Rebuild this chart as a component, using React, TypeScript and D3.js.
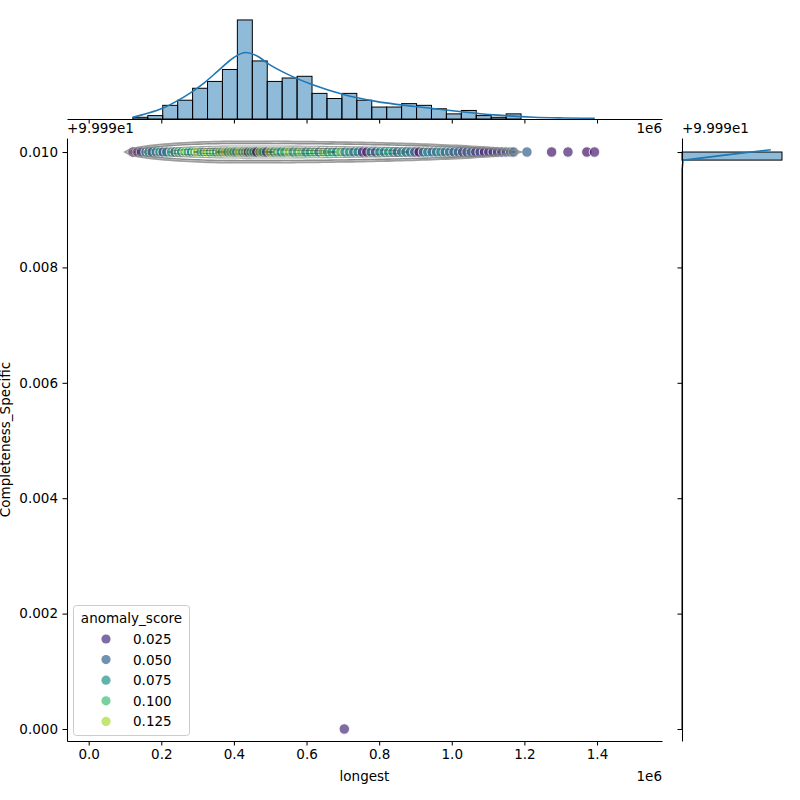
import { useEffect, useRef } from "react"
import * as d3 from "d3"

// completeness values sit on a tiny offset, ticks are printed relative to it
const Y_OFFSET = 99.99

// marginal histogram of `longest`
const longestBinEdges = [
  121700, 162800, 203900, 245100, 286200, 327300, 368400, 409500, 450700, 491800, 532900, 574000, 615100, 656300,
  697400, 738500, 779600, 820700, 861800, 903000, 944100, 985200, 1026300, 1067400, 1108600, 1149700, 1190800,
]
const longestBinCounts = [1, 2, 8, 11, 18, 22, 29, 58, 34, 22, 24, 25, 15, 12, 15, 11, 7, 7, 9, 8, 6, 3, 5, 2, 1, 3]

// kde of `longest`, scaled to counts
const longestKdeX = [
  121700, 160000, 203400, 240000, 279300, 320000, 355600, 399000, 432000, 464000, 497000, 540000, 617000, 704000,
  791000, 899000, 1008000, 1117000, 1226000, 1310000, 1394000,
]
const longestKdeCount = [
  1, 3.2, 6.3, 10.2, 15.2, 21.5, 28, 35.9, 38.9, 36.9, 32, 27, 20, 14.2, 10.3, 7.3, 4.7, 2.4, 1.0, 0.6, 0.4,
]

// marginal histogram of Completeness_Specific
const completenessBinEdges = [99.99986, 100.0]
const completenessBinCounts = [358]

// kde of Completeness_Specific, scaled to counts
const completenessKdeY = [99.99, 99.99969, 99.999852, 99.99986, 99.99995, 100.00004]
const completenessKdeCount = [0, 0, 4, 8, 160, 318]

// [longest, Completeness_Specific, anomaly_score]
const points: [number, number, number][] = [
  [122000, 100, 0.01], [135000, 100, 0.012], [145000, 100, 0.03], [158000, 100, 0.06], [166000, 100, 0.075],
  [175000, 100, 0.04], [186000, 100, 0.07], [196000, 100, 0.085], [205000, 100, 0.035], [215000, 100, 0.062],
  [228000, 100, 0.095], [238000, 100, 0.045], [247000, 100, 0.105], [256000, 100, 0.08], [265000, 100, 0.12],
  [274000, 100, 0.09], [283000, 100, 0.07], [292000, 100, 0.11], [300000, 100, 0.128], [309000, 100, 0.1],
  [318000, 100, 0.085], [326000, 100, 0.135], [335000, 100, 0.092], [343000, 100, 0.115], [352000, 100, 0.078],
  [360000, 100, 0.125], [368000, 100, 0.098], [376000, 100, 0.14], [384000, 100, 0.088], [392000, 100, 0.118],
  [400000, 100, 0.102], [408000, 100, 0.082], [416000, 100, 0.1425], [424000, 100, 0.094], [432000, 100, 0.113],
  [440000, 100, 0.02], [447000, 100, 0.108], [455000, 100, 0.087], [463000, 100, 0.0074], [472000, 100, 0.123],
  [480000, 100, 0.097], [490000, 100, 0.03], [500000, 100, 0.13], [510000, 100, 0.09], [520000, 100, 0.112],
  [530000, 100, 0.08], [540000, 100, 0.1], [552000, 100, 0.125], [563000, 100, 0.086], [575000, 100, 0.104],
  [587000, 100, 0.118], [598000, 100, 0.072], [610000, 100, 0.095], [622000, 100, 0.109], [634000, 100, 0.066],
  [646000, 100, 0.12], [658000, 100, 0.083], [670000, 100, 0.099], [682000, 100, 0.074], [694000, 100, 0.114],
  [706000, 100, 0.064], [718000, 100, 0.09], [730000, 100, 0.052], [742000, 100, 0.078], [754000, 100, 0.022],
  [766000, 100, 0.015], [778000, 100, 0.068], [790000, 100, 0.035], [802000, 100, 0.084], [814000, 100, 0.06],
  [826000, 100, 0.092], [838000, 100, 0.072], [850000, 100, 0.045], [862000, 100, 0.08], [874000, 100, 0.058],
  [886000, 100, 0.065], [898000, 100, 0.04], [910000, 100, 0.012], [922000, 100, 0.055], [934000, 100, 0.07],
  [946000, 100, 0.048], [958000, 100, 0.062], [970000, 100, 0.075], [982000, 100, 0.05], [994000, 100, 0.068],
  [1006000, 100, 0.042], [1018000, 100, 0.058], [1030000, 100, 0.03], [1042000, 100, 0.045], [1054000, 100, 0.052],
  [1066000, 100, 0.025], [1078000, 100, 0.038], [1090000, 100, 0.018], [1102000, 100, 0.03], [1114000, 100, 0.022],
  [1126000, 100, 0.035], [1138000, 100, 0.028], [1150000, 100, 0.04], [1162000, 100, 0.045], [1170000, 100, 0.05],
  [1207000, 100, 0.048], [1275000, 100, 0.016], [1320000, 100, 0.02], [1372000, 100, 0.014], [1393000, 100, 0.018],
  [704000, 99.99, 0.025],
]

// joint kde contour levels: extent along longest, widest point, half height
const contourFrom = [100000, 118000, 150000, 220000, 290000, 350000]
const contourTo = [1190000, 1165000, 1060000, 880000, 680000, 510000]
const contourPeak = [420000, 420000, 430000, 430000, 430000, 430000]
const contourHalf = [0.000185, 0.00015, 0.000105, 0.00007, 0.00004, 0.000018]
const contourColors = ["#8c8c8c", "#7a7a7a", "#686868", "#515151", "#3c3c3c", "#262626"]
const contourWidths = [1.8, 1.6, 1.1, 1, 1, 1]

const xTicks = [0, 200000, 400000, 600000, 800000, 1000000, 1200000, 1400000]
const xTickLabels = ["0.0", "0.2", "0.4", "0.6", "0.8", "1.0", "1.2", "1.4"]
const yTickOffsets = [0, 0.002, 0.004, 0.006, 0.008, 0.01]
const yTickLabels = ["0.000", "0.002", "0.004", "0.006", "0.008", "0.010"]

const legendValues = [0.025, 0.05, 0.075, 0.1, 0.125]

const FONT = "DejaVu Sans, sans-serif"
const FS = 13.5

export default function App() {
  const ref = useRef<SVGSVGElement>(null)

  useEffect(() => {
    if (!ref.current) return
    const svg = d3.select(ref.current)
    svg.selectAll("*").remove()

    const L = 67
    const R = 662
    const T = 138
    const B = 741
    const topB = 119
    const topT = 15
    const rL = 682
    const rR = 787

    const x = d3.scaleLinear().domain([-59700, 1579000]).range([L, R])
    const y = d3
      .scaleLinear()
      .domain([Y_OFFSET - 0.000208, Y_OFFSET + 0.010243])
      .range([B, T])
    const topY = d3
      .scaleLinear()
      .domain([0, (d3.max(longestBinCounts) ?? 1) * 1.05])
      .range([topB, topT])
    const rightX = d3
      .scaleLinear()
      .domain([0, (d3.max(completenessBinCounts) ?? 1) * 1.05])
      .range([rL, rR])

    const scores = points.map((p) => p[2])
    const [sMin, sMax] = d3.extent(scores) as [number, number]
    const color = d3.scaleSequential(d3.interpolateViridis).domain([sMin, sMax])

    const yTicks = yTickOffsets.map((t) => Y_OFFSET + t)

    const styleAxis = (g: d3.Selection<SVGGElement, unknown, null, undefined>) => {
      g.attr("font-family", FONT).attr("font-size", FS)
      g.select(".domain").attr("stroke", "#000").attr("stroke-width", 1.05)
      g.selectAll(".tick line").attr("stroke", "#000").attr("stroke-width", 1.05)
      g.selectAll(".tick text").attr("fill", "#000")
    }

    // ---- top marginal: histogram + kde
    const top = svg.append("g")
    top
      .selectAll("rect")
      .data(longestBinCounts)
      .join("rect")
      .attr("x", (_, i) => x(longestBinEdges[i]))
      .attr("width", (_, i) => x(longestBinEdges[i + 1]) - x(longestBinEdges[i]))
      .attr("y", (d) => topY(d))
      .attr("height", (d) => topB - topY(d))
      .attr("fill", "#1f77b4")
      .attr("fill-opacity", 0.5)
      .attr("stroke", "#000")
      .attr("stroke-width", 1)

    const topLine = d3
      .line<number>()
      .x((_, i) => x(longestKdeX[i]))
      .y((d) => topY(d))
      .curve(d3.curveMonotoneX)
    top
      .append("path")
      .attr("d", topLine(longestKdeCount))
      .attr("fill", "none")
      .attr("stroke", "#1f77b4")
      .attr("stroke-width", 1.6)

    const topAxis = top
      .append("g")
      .attr("transform", `translate(0,${topB})`)
      .call(d3.axisBottom(x).tickValues(xTicks).tickFormat(() => "").tickSize(4.5).tickSizeOuter(0))
    styleAxis(topAxis)

    top
      .append("text")
      .attr("x", R)
      .attr("y", 133)
      .attr("text-anchor", "end")
      .attr("font-family", FONT)
      .attr("font-size", FS)
      .text("1e6")

    // ---- right marginal: histogram + kde
    const right = svg.append("g")
    right
      .selectAll("rect")
      .data(completenessBinCounts)
      .join("rect")
      .attr("x", rL)
      .attr("width", (d) => rightX(d) - rL)
      .attr("y", (_, i) => y(completenessBinEdges[i + 1]))
      .attr("height", (_, i) => y(completenessBinEdges[i]) - y(completenessBinEdges[i + 1]))
      .attr("fill", "#1f77b4")
      .attr("fill-opacity", 0.5)
      .attr("stroke", "#000")
      .attr("stroke-width", 1)

    const rightLine = d3
      .line<number>()
      .x((d) => rightX(d))
      .y((_, i) => y(completenessKdeY[i]))
    right
      .append("path")
      .attr("d", rightLine(completenessKdeCount))
      .attr("fill", "none")
      .attr("stroke", "#1f77b4")
      .attr("stroke-width", 1.6)

    const rightAxis = right
      .append("g")
      .attr("transform", `translate(${rL},0)`)
      .call(d3.axisLeft(y).tickValues(yTicks).tickFormat(() => "").tickSize(4.5).tickSizeOuter(0))
    styleAxis(rightAxis)

    right
      .append("text")
      .attr("x", rL)
      .attr("y", 133)
      .attr("font-family", FONT)
      .attr("font-size", FS)
      .text("+9.999e1")

    // ---- joint: scatter coloured by anomaly_score, kde contours on top
    const joint = svg.append("g")
    joint
      .selectAll("circle")
      .data(points)
      .join("circle")
      .attr("cx", (d) => x(d[0]))
      .attr("cy", (d) => y(d[1]))
      .attr("r", 5.2)
      .attr("fill", (d) => color(d[2]))
      .attr("fill-opacity", 0.7)
      .attr("stroke", "#fff")
      .attr("stroke-width", 0.8)

    const lens = (i: number) => {
      const from = contourFrom[i]
      const to = contourTo[i]
      const peak = contourPeak[i]
      const half = contourHalf[i]
      const xs = d3.range(0, 81).map((k) => from + ((to - from) * k) / 80)
      const h = (v: number) => {
        const t = v < peak ? (peak - v) / (peak - from) : (v - peak) / (to - peak)
        return half * Math.pow(Math.max(0, 1 - t * t), 0.55)
      }
      const upper = xs.map((v) => [x(v), y(100 + h(v))] as [number, number])
      const lower = xs
        .slice()
        .reverse()
        .map((v) => [x(v), y(100 - h(v))] as [number, number])
      return d3.line().curve(d3.curveLinearClosed)([...upper, ...lower])
    }
    contourFrom.forEach((_, i) => {
      joint
        .append("path")
        .attr("d", lens(i))
        .attr("fill", "none")
        .attr("stroke", contourColors[i])
        .attr("stroke-opacity", i < 2 ? 0.85 : 0.6)
        .attr("stroke-width", contourWidths[i])
    })

    const xAxis = svg
      .append("g")
      .attr("transform", `translate(0,${B})`)
      .call(
        d3
          .axisBottom(x)
          .tickValues(xTicks)
          .tickFormat((_, i) => xTickLabels[i])
          .tickSize(4.5)
          .tickPadding(3.5)
          .tickSizeOuter(0),
      )
    styleAxis(xAxis)

    const yAxis = svg
      .append("g")
      .attr("transform", `translate(${L},0)`)
      .call(
        d3
          .axisLeft(y)
          .tickValues(yTicks)
          .tickFormat((_, i) => yTickLabels[i])
          .tickSize(4.5)
          .tickPadding(4.5)
          .tickSizeOuter(0),
      )
    styleAxis(yAxis)

    svg
      .append("text")
      .attr("x", L)
      .attr("y", 133)
      .attr("font-family", FONT)
      .attr("font-size", FS)
      .text("+9.999e1")

    svg
      .append("text")
      .attr("x", (L + R) / 2)
      .attr("y", 781)
      .attr("text-anchor", "middle")
      .attr("font-family", FONT)
      .attr("font-size", FS)
      .text("longest")

    svg
      .append("text")
      .attr("x", R)
      .attr("y", 781)
      .attr("text-anchor", "end")
      .attr("font-family", FONT)
      .attr("font-size", FS)
      .text("1e6")

    svg
      .append("text")
      .attr("transform", `translate(10,${(T + B) / 2}) rotate(-90)`)
      .attr("text-anchor", "middle")
      .attr("font-family", FONT)
      .attr("font-size", FS)
      .text("Completeness_Specific")

    // ---- legend
    const lg = svg.append("g").attr("font-family", FONT).attr("font-size", FS)
    lg.append("rect")
      .attr("x", 73.5)
      .attr("y", 605.5)
      .attr("width", 116)
      .attr("height", 130)
      .attr("rx", 3)
      .attr("fill", "#fff")
      .attr("fill-opacity", 0.8)
      .attr("stroke", "#cccccc")
      .attr("stroke-width", 1)
    lg.append("text").attr("x", 131.5).attr("y", 623).attr("text-anchor", "middle").text("anomaly_score")
    legendValues.forEach((v, i) => {
      const cy = 639 + i * 20.6
      lg.append("circle")
        .attr("cx", 106)
        .attr("cy", cy)
        .attr("r", 4.6)
        .attr("fill", color(v))
        .attr("fill-opacity", 0.7)
      lg.append("text")
        .attr("x", 133)
        .attr("y", cy + 5)
        .text(v.toFixed(3))
    })
  }, [])

  return (
    <svg
      ref={ref}
      width={800}
      height={800}
      style={{ position: "absolute", left: 0, top: 0, background: "#fff" }}
    />
  )
}
